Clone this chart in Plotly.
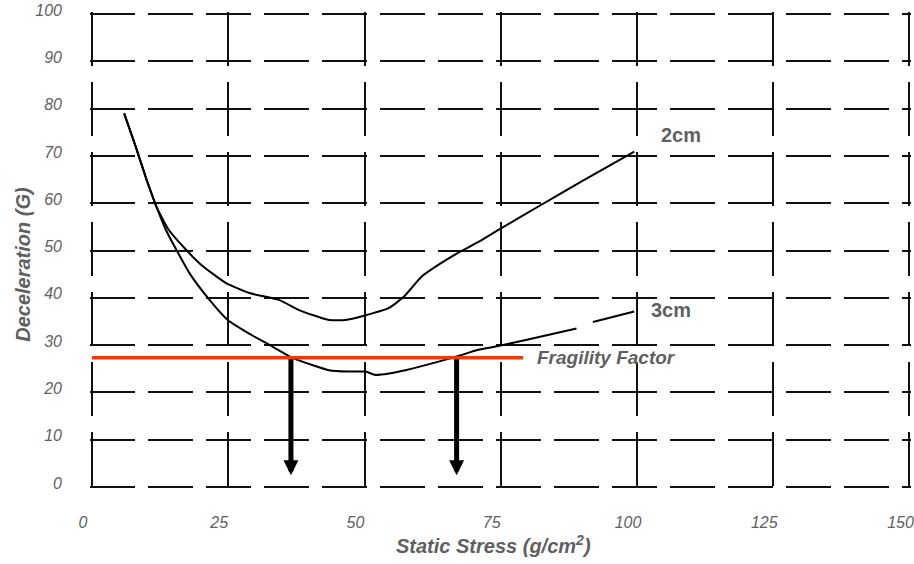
import plotly.graph_objects as go

# ---- data ----
x_2cm = [5.9, 8, 10, 11.8, 14, 17.3, 20, 24.6, 28.9, 34.4, 38.0, 43.5, 46.5, 49.9,
         54.4, 57.2, 60.5, 63.6, 67, 70.9, 74.5, 81.9, 90, 99.5]
y_2cm = [79, 72, 65, 59.3, 54.5, 50.1, 47, 43.1, 41.0, 39.5, 37.4, 35.3, 35.3, 36.2,
         37.8, 40.2, 44.5, 47.0, 49.4, 51.8, 54.3, 59.3, 64.7, 70.9]

x_3cm = [5.9, 8, 10, 11.8, 13.5, 15.5, 18, 21.6, 24.9, 29, 33.1, 36.8, 40.4, 43.5,
         47, 50.2, 52.0, 54.5, 57.5, 63.6, 67.2, 70.9, 74.5, 80, 88.9, None, 91.9, 99.5]
y_3cm = [79, 72, 65, 59.3, 54.5, 50.1, 45, 39.5, 35.3, 32.3, 29.7, 27.3, 25.8, 24.7,
         24.4, 24.4, 23.7, 24.0, 24.7, 26.5, 27.7, 29.0, 29.8, 31.2, 33.5, None, 34.9, 37.1]

fragility_value = 27.3
fragility_x = [0, 79.1]
arrow_x = [36.5, 66.9]
arrow_bottom = 2.5

x_ticks = [0, 25, 50, 75, 100, 125, 150]
y_ticks = [0, 10, 20, 30, 40, 50, 60, 70, 80, 90, 100]

labels = [("2cm", 108.0, 74.4), ("3cm", 106.2, 37.4)]
fragility_label = ("Fragility Factor", 81.3, 27.3)
x_title = "Static Stress (g/cm<sup>2</sup>)"
y_title = "Deceleration (G)"

GRAY = "#5f5f5f"
FONT = "Liberation Sans, Arial, sans-serif"

fig = go.Figure()

fig.add_trace(go.Scatter(x=x_2cm, y=y_2cm, mode="lines",
                         line=dict(color="black", width=2, shape="spline", smoothing=0.5),
                         hoverinfo="skip"))
fig.add_trace(go.Scatter(x=x_3cm, y=y_3cm, mode="lines", connectgaps=False,
                         line=dict(color="black", width=2, shape="spline", smoothing=0.5),
                         hoverinfo="skip"))
fig.add_trace(go.Scatter(x=fragility_x, y=[fragility_value] * len(fragility_x), mode="lines",
                         line=dict(color="#ff3300", width=3.5), hoverinfo="skip"))

for ax_ in arrow_x:
    fig.add_annotation(x=ax_, y=arrow_bottom, ax=ax_, ay=fragility_value,
                       xref="x", yref="y", axref="x", ayref="y",
                       showarrow=True, arrowhead=2, arrowsize=0.6, arrowwidth=5,
                       arrowcolor="black", text="")

for t, lx, ly in labels:
    fig.add_annotation(x=lx, y=ly, xref="x", yref="y", text=t, showarrow=False,
                       font=dict(family=FONT, size=20, color=GRAY, weight="bold"))

t, lx, ly = fragility_label
fig.add_annotation(x=lx, y=ly, xref="x", yref="y", text=t, showarrow=False,
                   xanchor="left",
                   font=dict(family=FONT, size=19, color=GRAY, weight="bold", style="italic"))

title_font = dict(family=FONT, size=20, color=GRAY, weight="bold", style="italic")
fig.add_annotation(text=x_title, xref="paper", yref="paper", x=0.4915, y=0,
                   xanchor="center", yanchor="middle", yshift=-55,
                   showarrow=False, font=title_font)
fig.add_annotation(text=y_title, xref="paper", yref="paper", x=0, y=0.47,
                   xanchor="center", yanchor="middle", xshift=-67, textangle=-90,
                   showarrow=False, font=title_font)

fig.update_layout(
    width=914, height=564,
    margin=dict(l=90, r=0, t=12, b=75),
    paper_bgcolor="white", plot_bgcolor="white",
    showlegend=False,
    xaxis=dict(range=[-0.37, 150.28], tickvals=x_ticks, ticktext=[str(v) for v in x_ticks],
               showgrid=True, gridcolor="#111", gridwidth=2, griddash="54px,16px",
               zeroline=False, showline=False, ticks="",
               ticklabelstandoff=22, ticklabelshift=-9, ticklabeloverflow="allow",
               tickfont=dict(family=FONT, size=16, color=GRAY, style="italic")),
    yaxis=dict(range=[-0.423, 100.423], tickvals=y_ticks, ticktext=[str(v) for v in y_ticks],
               showgrid=True, gridcolor="#111", gridwidth=2, griddash="45px,13px",
               zeroline=False, showline=False, ticks="",
               ticklabelstandoff=27, ticklabelshift=-4, ticklabeloverflow="allow",
               tickfont=dict(family=FONT, size=16, color=GRAY, style="italic")),
)

fig.write_html("out.html")
